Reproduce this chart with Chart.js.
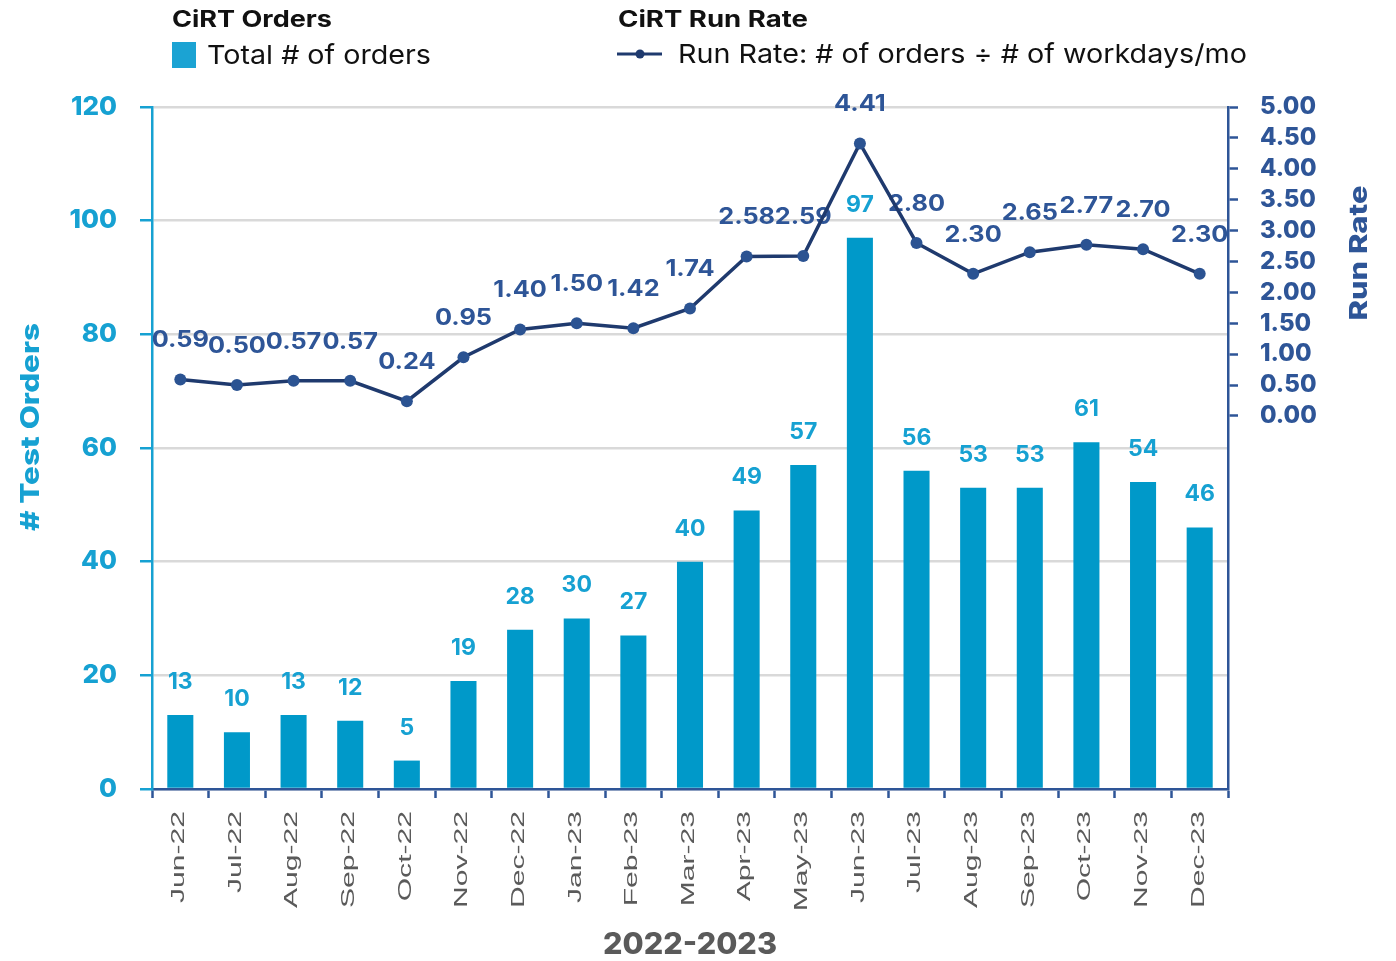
<!DOCTYPE html>
<html><head><meta charset="utf-8">
<script src="https://cdn.jsdelivr.net/npm/chart.js@4/dist/chart.umd.min.js"></script>
<style>html,body{margin:0;padding:0;background:#fff;}#wrap{position:relative;width:1396px;height:961px;}</style>
</head><body><div id="wrap"><canvas id="c" width="1396" height="961"></canvas></div>
<script>
const categories = ['Jun-22','Jul-22','Aug-22','Sep-22','Oct-22','Nov-22','Dec-22','Jan-23','Feb-23','Mar-23','Apr-23','May-23','Jun-23','Jul-23','Aug-23','Sep-23','Oct-23','Nov-23','Dec-23'];
const totalOrders = [13,10,13,12,5,19,28,30,27,40,49,57,97,56,53,53,61,54,46];
const runRate = [0.59,0.50,0.57,0.57,0.24,0.95,1.40,1.50,1.42,1.74,2.58,2.59,4.41,2.80,2.30,2.65,2.77,2.70,2.30];
const orderTicks = [0,20,40,60,80,100,120];
const rateTicks = [0,0.5,1,1.5,2,2.5,3,3.5,4,4.5,5];
const legendOrdersTitle = 'CiRT Orders';
const legendOrdersLabel = 'Total # of orders';
const legendRateTitle = 'CiRT Run Rate';
const legendRateLabel = 'Run Rate: # of orders \u00F7 # of workdays/mo';
const leftTitle = '# Test Orders';
const rightTitle = 'Run Rate';
const xTitle = '2022-2023';

const BLUE = '#16A1D2', BAR = '#0099C9', NAVY = '#2E5597', LINE = '#1F3A6E', GREY = '#5A5A5A';
const BOLD = "'Inter', 'DejaVu Sans', sans-serif";

function fitText(ctx, text, x, y, font, color, align, targetW) {
  ctx.save();
  ctx.font = font; ctx.fillStyle = color; ctx.textBaseline = 'middle';
  const w = ctx.measureText(text).width;
  const s = targetW ? targetW / w : 1;
  ctx.translate(x, y); ctx.scale(s, 1);
  ctx.textAlign = align;
  ctx.fillText(text, 0, 0);
  ctx.restore();
}
function fitRotText(ctx, text, cx, cy, font, color, targetL) {
  ctx.save();
  ctx.font = font; ctx.fillStyle = color; ctx.textBaseline = 'middle'; ctx.textAlign = 'center';
  const w = ctx.measureText(text).width;
  ctx.translate(cx, cy); ctx.rotate(-Math.PI/2); ctx.scale(targetL ? targetL / w : 1, 1);
  ctx.fillText(text, 0, 0);
  ctx.restore();
}

const decor = {
  id: 'decor',
  beforeDatasetsDraw(chart) {
    const ctx = chart.ctx;
    const barMeta = chart.getDatasetMeta(1), lineMeta = chart.getDatasetMeta(0);
    ctx.save();
    ctx.textAlign = 'center'; ctx.textBaseline = 'middle';
    ctx.font = "700 23px " + BOLD; ctx.fillStyle = BLUE;
    barMeta.data.forEach((el, i) => ctx.fillText(String(totalOrders[i]), el.x, el.y - 33));
    ctx.fillStyle = NAVY;
    lineMeta.data.forEach((el, i) => {
      ctx.save();
      ctx.translate(el.x, el.y - 39); ctx.scale(1.1, 1);
      ctx.fillText(runRate[i].toFixed(2), 0, 0);
      ctx.restore();
    });
    ctx.restore();
  },
  afterDraw(chart) {
    const ctx = chart.ctx;
    const xs = chart.scales.x;
    ctx.save();
    ctx.font = "17.5px 'Liberation Sans', Arial, sans-serif";
    ctx.fillStyle = GREY; ctx.textAlign = 'right'; ctx.textBaseline = 'middle';
    categories.forEach((lab, i) => {
      const x = xs.getPixelForValue(i);
      ctx.save();
      ctx.translate(x - 1, chart.chartArea.bottom + 22);
      ctx.rotate(-Math.PI/2);
      ctx.scale(1.72, 1);
      ctx.fillText(lab, 0, 0);
      ctx.restore();
    });
    ctx.restore();
    fitText(ctx, xTitle, (chart.chartArea.left + chart.chartArea.right)/2, 945, "800 30px " + BOLD, GREY, 'center', 174);
    fitRotText(ctx, leftTitle, 31, 427, "800 26px " + BOLD, BLUE, 208);
    fitRotText(ctx, rightTitle, 1359, 253, "800 25px " + BOLD, NAVY, 135);
    fitText(ctx, legendOrdersTitle, 172, 20, "700 23px " + BOLD, '#111', 'left', 160);
    ctx.fillStyle = '#1BA3D3'; ctx.fillRect(172, 42, 24, 26);
    fitText(ctx, legendOrdersLabel, 207, 56, "400 26px " + BOLD, '#111', 'left', 224);
    fitText(ctx, legendRateTitle, 618, 20, "700 23px " + BOLD, '#111', 'left', 190);
    ctx.save();
    ctx.strokeStyle = LINE; ctx.lineWidth = 3;
    ctx.beginPath(); ctx.moveTo(617, 54); ctx.lineTo(662, 54); ctx.stroke();
    ctx.fillStyle = LINE; ctx.beginPath(); ctx.arc(640, 54, 4.5, 0, Math.PI*2); ctx.fill();
    ctx.restore();
    fitText(ctx, legendRateLabel, 678, 55, "400 26px " + BOLD, '#111', 'left', 569);
  }
};

new Chart(document.getElementById('c'), {
  data: {
    labels: categories,
    datasets: [
      { type: 'line', label: legendRateLabel, data: runRate, yAxisID: 'y1', order: 0,
        borderColor: LINE, borderWidth: 3.5, pointRadius: 6, pointBackgroundColor: '#2B5392',
        pointBorderColor: '#2B5392', pointBorderWidth: 0, tension: 0 },
      { type: 'bar', label: legendOrdersLabel, data: totalOrders, yAxisID: 'y', order: 1,
        backgroundColor: BAR, barPercentage: 0.46, categoryPercentage: 1 }
    ]
  },
  options: {
    responsive: false, animation: false, devicePixelRatio: 1,
    layout: { padding: { top: 107, left: 0, right: 0, bottom: 0 } },
    plugins: { legend: { display: false }, tooltip: { enabled: false }, title: { display: false } },
    scales: {
      x: {
        ticks: { display: false },
        grid: { display: true, offset: true, drawOnChartArea: false, drawTicks: true, tickLength: 9, tickColor: NAVY, tickWidth: 2.5 },
        border: { color: NAVY, width: 2.5 },
        afterFit(s) { s.height = 172; }
      },
      y: {
        position: 'left', min: 0, max: 120,
        afterBuildTicks(s) { s.ticks = orderTicks.map(v => ({ value: v })); },
        ticks: { color: BLUE, font: { family: BOLD, weight: '800', size: 26 }, padding: 23 },
        grid: { color: '#D9D9D9', lineWidth: 2.5, tickColor: BLUE, tickLength: 12, tickWidth: 2.5 },
        border: { color: BLUE, width: 2.5 },
        afterFit(s) { s.width = 152; }
      },
      y1: {
        position: 'right', min: -6.036, max: 5,
        afterBuildTicks(s) { s.ticks = rateTicks.map(v => ({ value: v })); },
        ticks: { color: NAVY, font: { family: BOLD, weight: '800', size: 24 }, padding: 22,
                 callback: v => Number(v).toFixed(2) },
        grid: { drawOnChartArea: false, tickColor: NAVY, tickLength: 10, tickWidth: 2.5 },
        border: { color: NAVY, width: 2.5 },
        afterFit(s) { s.width = 168; }
      }
    }
  },
  plugins: [decor]
});
</script></body></html>
